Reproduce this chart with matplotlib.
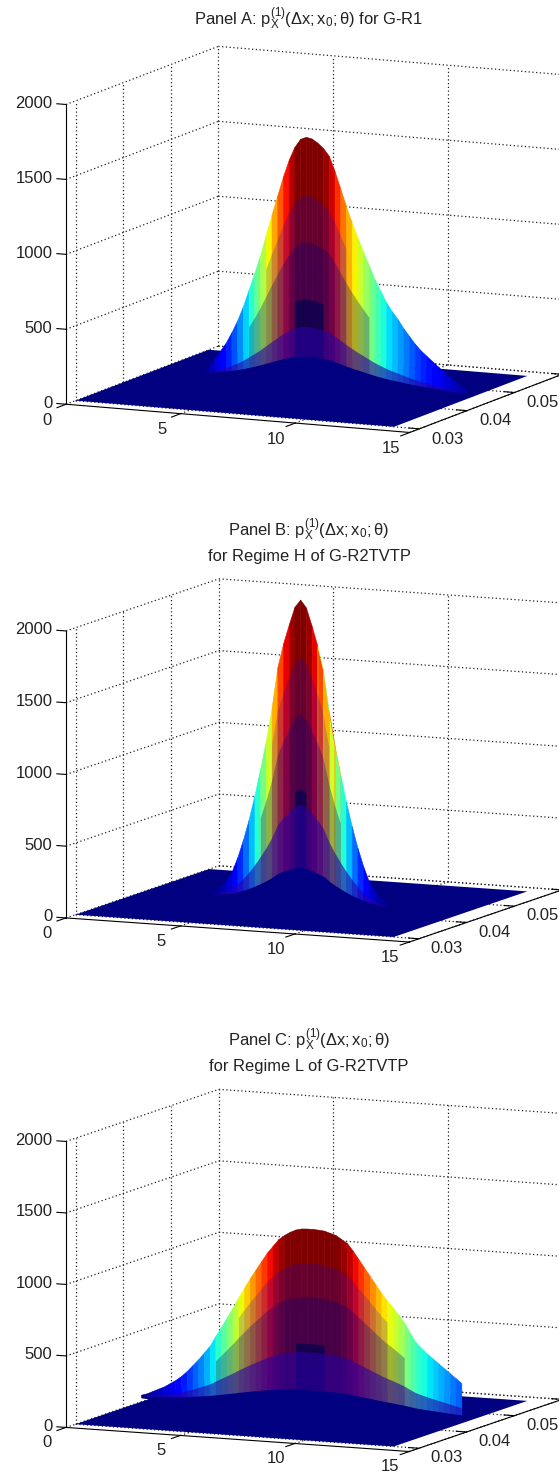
import numpy as np
import matplotlib as mpl
mpl.use("Agg")
import matplotlib.pyplot as plt
from mpl_toolkits.mplot3d import proj3d
from mpl_toolkits.mplot3d.art3d import Poly3DCollection

### Plotting style ##################
mpl.rc('font', family=['Liberation Sans', 'DejaVu Sans'])
mpl.rc('mathtext', fontset='custom', rm='Liberation Sans', it='Liberation Sans',
       bf='Liberation Sans', default='regular', fallback='cm')
#####################################

x_ticks = [0, 5, 10, 15]
y_ticks = [0.03, 0.04, 0.05, 0.06]
y_labels = ['0.03', '0.04', '0.05', '']
z_ticks = [0, 500, 1000, 1500, 2000]

floor_x = [0.0, 13.9]
floor_y = [0.03, 0.058]

### Panel A
a_x = [2.0, 2.25, 2.5, 2.75, 3.0, 3.25, 3.5, 3.75, 4.0, 4.25, 4.5, 4.75, 5.0, 5.25, 5.5, 5.75,
       6.0, 6.25, 6.5, 6.75, 7.0, 7.25, 7.5, 7.75, 8.0, 8.25, 8.5, 8.75, 9.0, 9.25, 9.5, 9.75,
       10.0, 10.25, 10.5, 10.75, 11.0, 11.25, 11.5, 11.75, 12.0, 12.25, 12.5, 12.75, 13.0, 13.25, 13.5]
a_ridge = [0.005, 0.03, 0.06, 0.095, 0.13, 0.175, 0.225, 0.285, 0.355, 0.425, 0.50, 0.585, 0.67,
           0.75, 0.83, 0.90, 0.955, 0.99, 1.0, 0.995, 0.98, 0.96, 0.93, 0.87, 0.80, 0.73, 0.665,
           0.605, 0.55, 0.495, 0.44, 0.395, 0.35, 0.315, 0.285, 0.25, 0.22, 0.19, 0.165, 0.145,
           0.125, 0.105, 0.085, 0.065, 0.05, 0.035, 0.025]
a_peak = 1630
a_wall_y = 0.0472
a_layer_h = [0.76, 0.57, 0.335, 0.224, 0.10]
a_layer_w = [1.85, 2.8, 0.7, 9.0, 9.0]

### Panel B
b_x = [2.75, 3.0, 3.25, 3.5, 3.75, 4.0, 4.25, 4.5, 4.75, 5.0, 5.25, 5.5, 5.75, 6.0, 6.25,
       6.5, 6.75, 7.0, 7.25, 7.5, 7.75, 8.0, 8.25, 8.5, 8.75, 9.0, 9.25, 9.5, 9.75, 10.0, 10.25, 10.5]
b_ridge = [0.004, 0.012, 0.028, 0.05, 0.08, 0.13, 0.19, 0.26, 0.34, 0.43, 0.525, 0.635,
           0.77, 0.85, 0.915, 0.975, 1.0, 0.975, 0.915, 0.85, 0.77, 0.635, 0.525, 0.43,
           0.34, 0.26, 0.19, 0.13, 0.08, 0.05, 0.028, 0.012]
b_peak = 2100
b_wall_y = 0.0448
b_layer_h = [0.81, 0.62, 0.37, 0.32, 0.11]
b_layer_w = [1.3, 1.85, 0.4, 9.0, 9.0]

### Panel C
c_x = [-0.5, -0.25, 0.0, 0.25, 0.5, 0.75, 1.0, 1.25, 1.5, 1.75, 2.0, 2.25, 2.5, 2.75, 3.0, 3.25,
       3.5, 3.75, 4.0, 4.25, 4.5, 4.75, 5.0, 5.25, 5.5, 5.75, 6.0, 6.25, 6.5, 6.75, 7.0, 7.25,
       7.5, 7.75, 8.0, 8.25, 8.5, 8.75, 9.0, 9.25, 9.5, 9.75, 10.0, 10.25, 10.5, 10.75, 11.0,
       11.25, 11.5, 11.75, 12.0, 12.25, 12.5, 12.75, 13.0, 13.25, 13.5]
c_ridge = [0.01, 0.02, 0.035, 0.05, 0.065, 0.085, 0.105, 0.13, 0.16, 0.195, 0.23, 0.27, 0.31,
           0.365, 0.42, 0.475, 0.53, 0.59, 0.645, 0.70, 0.75, 0.80, 0.85, 0.89, 0.93, 0.955,
           0.975, 0.99, 0.998, 1.0, 1.0, 0.998, 0.995, 0.985, 0.975, 0.955, 0.935, 0.895, 0.85,
           0.805, 0.76, 0.715, 0.67, 0.63, 0.595, 0.555, 0.515, 0.46, 0.41, 0.38, 0.35, 0.325,
           0.30, 0.275, 0.25, 0.225, 0.20]
c_peak = 1256
c_wall_y = 0.0462
c_layer_h = [0.81, 0.62, 0.36, 0.313, 0.10]
c_layer_w = [3.4, 4.3, 0.75, 9.0, 9.0]

layer_colors = [(0, 0, 0.9, 0.2), (0, 0, 0.5, 0.3), (0, 0, 0.31, 0.7),
                (0.16, 0, 0.63, 0.6), (0, 0, 0.5, 1.0)]

panels = [
    dict(x=a_x, ridge=a_ridge, peak=a_peak, wall_y=a_wall_y,
         layer_h=a_layer_h, layer_w=a_layer_w, xc=6.6,
         elev=10.2, azim=-65.1, box=(377, 360, 303), centre=(306.5, 247)),
    dict(x=b_x, ridge=b_ridge, peak=b_peak, wall_y=b_wall_y,
         layer_h=b_layer_h, layer_w=b_layer_w, xc=6.7,
         elev=8.9, azim=-65.6, box=(375, 368, 289), centre=(306.5, 768)),
    dict(x=c_x, ridge=c_ridge, peak=c_peak, wall_y=c_wall_y,
         layer_h=c_layer_h, layer_w=c_layer_w, xc=6.9,
         elev=8.9, azim=-65.6, box=(375, 368, 288), centre=(306.5, 1278)),
]

titles = [
    [(19, r"Panel A: $p_X^{(1)}(\Delta x;x_0;\theta)$ for G-R1")],
    [(530, r"Panel B: $p_X^{(1)}(\Delta x;x_0;\theta)$"), (556, "for Regime H of G-R2TVTP")],
    [(1040, r"Panel C: $p_X^{(1)}(\Delta x;x_0;\theta)$"), (1066, "for Regime L of G-R2TVTP")],
]

W, H = 559, 1475
AX = 560
jet = plt.get_cmap('jet')


def label(ax, x, y, z, s, ha):
    # tick label placed in the 2d plane of the 3d axes
    x2, y2, _ = proj3d.proj_transform(x, y, z, ax.get_proj())
    ax.text2D(x2, y2, s, transform=ax.transData, ha=ha, va='center',
              fontsize=12, color='#222222', clip_on=False)


fig = plt.figure(figsize=(W/100, H/100), dpi=100, facecolor='white')

for p, title in zip(panels, titles):
    cx, cy = p['centre']
    ax = fig.add_axes([(cx-AX/2)/W, (H-cy-AX/2)/H, AX/W, AX/H], projection='3d')
    ax.set_proj_type('ortho')
    ax.computed_zorder = False
    ax.view_init(elev=p['elev'], azim=p['azim'])
    ax.set_xlim(0, 15, view_margin=0)
    ax.set_ylim(0.028, 0.06, view_margin=0)
    ax.set_zlim(0, 2000, view_margin=0)
    ax.set_box_aspect(p['box'], zoom=1.033*np.linalg.norm(p['box'])*1.8/AX/1.9057)
    ax.set_axis_off()

    # dotted walls and floor
    gs = dict(color='#222222', lw=0.9, ls=(0, (1, 2.0)), zorder=1)
    for z in z_ticks:
        ax.plot([0, 0], [0.028, 0.06], [z, z], **gs)
        ax.plot([0, 15], [0.06, 0.06], [z, z], **gs)
    for y in y_ticks:
        ax.plot([0, 0], [y, y], [0, 2000], **gs)
        ax.plot([0, 15], [y, y], [0, 0], **gs)
    for x in x_ticks[1:]:
        ax.plot([x, x], [0.06, 0.06], [0, 2000], **gs)
        ax.plot([x, x], [0.028, 0.06], [0, 0], **gs)

    # flat part of the surface
    FX, FY = np.meshgrid(floor_x, floor_y)
    ax.plot_surface(FX, FY, np.zeros_like(FX), color=(0, 0, 0.5), shade=False,
                    linewidth=0, zorder=2)

    # back of the hill, each strip coloured by its height
    xs = np.array(p['x'])
    ridge = np.array(p['ridge'])
    XX = np.vstack([xs, xs])
    YY = np.full_like(XX, p['wall_y'])
    ZZ = np.vstack([ridge*0, ridge*p['peak']])
    strip = jet(0.5*(ridge[:-1]+ridge[1:])/0.97)
    surf = ax.plot_surface(XX, YY, ZZ, facecolors=strip[None, :, :], shade=False,
                           rstride=1, cstride=1, linewidth=0, antialiased=True, zorder=3)
    surf.set_edgecolor('face')
    surf.set_linewidth(0.4)

    # see-through front sheets
    order = 4
    for h, w, col in zip(p['layer_h'], p['layer_w'], layer_colors):
        keep = np.abs(xs-p['xc']) <= w
        top = [(x, p['wall_y'], z) for x, z in zip(xs[keep], ridge[keep]*h*p['peak'])]
        verts = [(xs[keep][0], p['wall_y'], 0)] + top + [(xs[keep][-1], p['wall_y'], 0)]
        opaque = col[3] == 1.0
        ax.add_collection3d(Poly3DCollection([verts], facecolors=[col],
                                             edgecolors=[col] if opaque else 'none',
                                             linewidths=1.2 if opaque else 0, zorder=order))
        order += 1

    # axis lines
    ls = dict(color='k', lw=0.8, zorder=12)
    ax.plot([0, 0], [0.028, 0.028], [0, 2000], **ls)
    ax.plot([0, 15], [0.028, 0.028], [0, 0], **ls)
    ax.plot([15, 15], [0.028, 0.06], [0, 0], **ls)

    for z in z_ticks:
        ax.plot([-0.4, 0], [0.028, 0.028], [z, z], **ls)
        label(ax, -0.6, 0.028, z, str(z), 'right')
    for x in x_ticks:
        ax.plot([x, x], [0.0261, 0.028], [0, 0], **ls)
        label(ax, x, 0.024, -60, str(x), 'center')
    for y, lab in zip(y_ticks, y_labels):
        ax.plot([14.55, 15], [y, y], [0, 0], **ls)
        if lab:
            label(ax, 16.23, y, -53, lab, 'center')

    for ty, txt in title:
        fig.text(309/W, 1-ty/H, txt, ha='center', va='center', fontsize=11.9, color='#222222')

fig.savefig('out.png', dpi=100, facecolor='white')
